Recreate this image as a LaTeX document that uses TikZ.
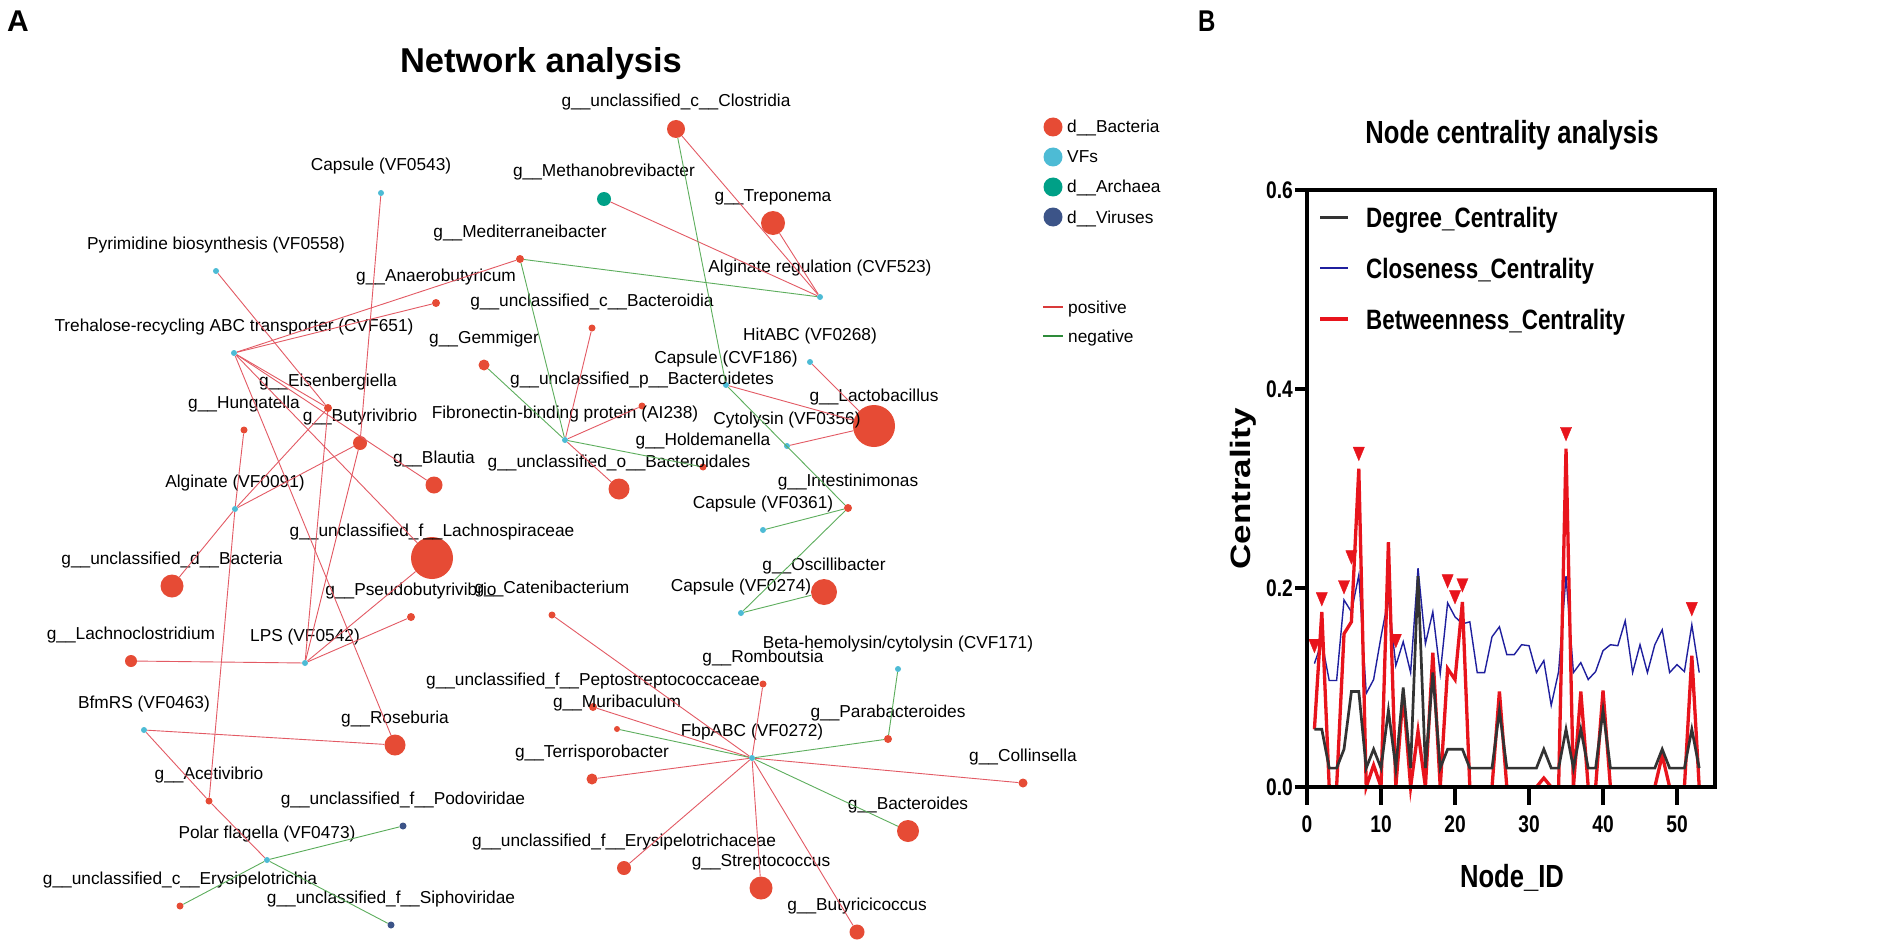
\documentclass[tikz,border=0pt]{standalone}
\usepackage{fontspec}
\usepackage{graphicx}
\setmainfont{Liberation Sans}
\newfontfamily\prismfont{Liberation Sans}[FakeStretch=0.8]
\usetikzlibrary{plotmarks}
\definecolor{bacred}{HTML}{E64B35}
\definecolor{vfcyan}{HTML}{4DBBD5}
\definecolor{archteal}{HTML}{00A087}
\definecolor{virblue}{HTML}{3C5488}
\definecolor{posedge}{HTML}{E35A64}
\definecolor{negedge}{HTML}{5DAE5D}
\definecolor{poskey}{HTML}{D93A3A}
\definecolor{negkey}{HTML}{2E8B3A}
\definecolor{degcol}{HTML}{333333}
\definecolor{clocol}{HTML}{1F1F9E}
\definecolor{betcol}{HTML}{E8141C}
\tikzset{
  bac/.style={circle,fill=bacred,inner sep=0pt},
  vf/.style={circle,fill=vfcyan,inner sep=0pt,minimum size=6pt},
  arch/.style={circle,fill=archteal,inner sep=0pt},
  vir/.style={circle,fill=virblue,inner sep=0pt,minimum size=7pt},
  lbl/.style={anchor=base,inner sep=0pt,font=\fontsize{17.3}{20}\selectfont},
  keytxt/.style={anchor=base west,inner sep=0pt,font=\fontsize{17.3}{20}\selectfont},
  poslink/.style={draw=posedge,line width=0.9pt},
  neglink/.style={draw=negedge,line width=0.9pt},
  axisline/.style={line width=4pt,line cap=rect},
  ticklbl/.style={inner sep=0pt,font=\prismfont\bfseries\fontsize{24}{28}\selectfont},
  prismtxt/.style={inner sep=0pt,font=\prismfont\bfseries\fontsize{28}{32}\selectfont}
}
\begin{document}
\begin{tikzpicture}[x=1pt,y=-1pt]
\path[fill=white,use as bounding box] (0,0) rectangle (1902,952);

\node[anchor=base west,inner sep=0pt,font=\bfseries\fontsize{30}{34}\selectfont] (lblA) at (7,32) {A};
\node[anchor=base,inner sep=0pt,font=\bfseries\fontsize{34.5}{38}\selectfont] (nettitle) at (541,73) {Network analysis};

\node[bac,minimum size=18pt] (clos) at (676,129) {};
\node[bac,minimum size=24pt] (trep) at (773,223) {};
\node[arch,minimum size=14pt] (meth) at (604,199) {};
\node[bac,minimum size=8pt] (medi) at (520,259) {};
\node[bac,minimum size=8pt] (anae) at (436,303) {};
\node[bac,minimum size=7pt] (bdia) at (592,328) {};
\node[bac,minimum size=11pt] (gemm) at (484,365) {};
\node[bac,minimum size=7pt] (bdet) at (642,406) {};
\node[bac,minimum size=42pt] (lact) at (874,426) {};
\node[bac,minimum size=7pt] (hold) at (703,467) {};
\node[bac,minimum size=21pt] (bdal) at (619,489) {};
\node[bac,minimum size=17pt] (blau) at (434,485) {};
\node[bac,minimum size=8pt] (eisen) at (328,408) {};
\node[bac,minimum size=7pt] (hung) at (244,430) {};
\node[bac,minimum size=14pt] (buty) at (360,443) {};
\node[bac,minimum size=42pt] (lachs) at (432,558) {};
\node[bac,minimum size=23pt] (ubac) at (172,586) {};
\node[bac,minimum size=8pt] (pseu) at (411,617) {};
\node[bac,minimum size=7pt] (cate) at (552,615) {};
\node[bac,minimum size=8pt] (intes) at (848,508) {};
\node[bac,minimum size=26pt] (osci) at (824,592) {};
\node[bac,minimum size=12pt] (lcl) at (131,661) {};
\node[bac,minimum size=21pt] (rose) at (395,745) {};
\node[bac,minimum size=7pt] (acet) at (209,801) {};
\node[bac,minimum size=7pt] (erysia) at (180,906) {};
\node[bac,minimum size=7pt] (romb) at (763,684) {};
\node[bac,minimum size=8pt] (pept) at (593,707) {};
\node[bac,minimum size=6pt] (muri) at (617,729) {};
\node[bac,minimum size=11pt] (terr) at (592,779) {};
\node[bac,minimum size=8pt] (para) at (888,739) {};
\node[bac,minimum size=9pt] (coll) at (1023,783) {};
\node[bac,minimum size=22pt] (bides) at (908,831) {};
\node[bac,minimum size=14pt] (eryc) at (624,868) {};
\node[bac,minimum size=23pt] (strep) at (761,888) {};
\node[bac,minimum size=15pt] (butc) at (857,932) {};
\node[vir] (podo) at (403,826) {};
\node[vir] (sipho) at (391,925) {};

\node[vf] (capA) at (381,193) {};
\node[vf] (pyr) at (216,271) {};
\node[vf] (algreg) at (820,297) {};
\node[vf] (treh) at (234,353) {};
\node[vf] (hit) at (810,362) {};
\node[vf] (cvfb) at (726,385) {};
\node[vf] (fib) at (565,440) {};
\node[vf] (cyto) at (787,446) {};
\node[vf] (algi) at (235,509) {};
\node[vf] (capC) at (763,530) {};
\node[vf] (capD) at (741,613) {};
\node[vf] (lps) at (305,663) {};
\node[vf] (bfm) at (144,730) {};
\node[vf] (polar) at (267,860) {};
\node[vf] (beta) at (898,669) {};
\node[vf] (fbp) at (752,758) {};

\node[lbl] (clos-l) at ([yshift=22pt]clos.center) {g\_\_unclassified\_c\_\_Clostridia};
\node[lbl] (trep-l) at ([yshift=22pt]trep.center) {g\_\_Treponema};
\node[lbl] (meth-l) at ([yshift=22pt]meth.center) {g\_\_Methanobrevibacter};
\node[lbl] (medi-l) at ([yshift=22pt]medi.center) {g\_\_Mediterraneibacter};
\node[lbl] (anae-l) at ([yshift=22pt]anae.center) {g\_\_Anaerobutyricum};
\node[lbl] (bdia-l) at ([yshift=22pt]bdia.center) {g\_\_unclassified\_c\_\_Bacteroidia};
\node[lbl] (gemm-l) at ([yshift=22pt]gemm.center) {g\_\_Gemmiger};
\node[lbl] (bdet-l) at ([yshift=22pt]bdet.center) {g\_\_unclassified\_p\_\_Bacteroidetes};
\node[lbl] (lact-l) at ([yshift=25pt]lact.center) {g\_\_Lactobacillus};
\node[lbl] (hold-l) at ([yshift=22pt]hold.center) {g\_\_Holdemanella};
\node[lbl] (bdal-l) at ([yshift=22pt]bdal.center) {g\_\_unclassified\_o\_\_Bacteroidales};
\node[lbl] (blau-l) at ([yshift=22pt]blau.center) {g\_\_Blautia};
\node[lbl] (eisen-l) at ([yshift=22pt]eisen.center) {g\_\_Eisenbergiella};
\node[lbl] (hung-l) at ([yshift=22pt]hung.center) {g\_\_Hungatella};
\node[lbl] (buty-l) at ([yshift=22pt]buty.center) {g\_\_Butyrivibrio};
\node[lbl] (lachs-l) at ([yshift=22pt]lachs.center) {g\_\_unclassified\_f\_\_Lachnospiraceae};
\node[lbl] (ubac-l) at ([yshift=22pt]ubac.center) {g\_\_unclassified\_d\_\_Bacteria};
\node[lbl] (pseu-l) at ([yshift=22pt]pseu.center) {g\_\_Pseudobutyrivibrio};
\node[lbl] (cate-l) at ([yshift=22pt]cate.center) {g\_\_Catenibacterium};
\node[lbl] (intes-l) at ([yshift=22pt]intes.center) {g\_\_Intestinimonas};
\node[lbl] (osci-l) at ([yshift=22pt]osci.center) {g\_\_Oscillibacter};
\node[lbl] (lcl-l) at ([yshift=22pt]lcl.center) {g\_\_Lachnoclostridium};
\node[lbl] (rose-l) at ([yshift=22pt]rose.center) {g\_\_Roseburia};
\node[lbl] (acet-l) at ([yshift=22pt]acet.center) {g\_\_Acetivibrio};
\node[lbl] (erysia-l) at ([yshift=22pt]erysia.center) {g\_\_unclassified\_c\_\_Erysipelotrichia};
\node[lbl] (romb-l) at ([yshift=22pt]romb.center) {g\_\_Romboutsia};
\node[lbl] (pept-l) at ([yshift=22pt]pept.center) {g\_\_unclassified\_f\_\_Peptostreptococcaceae};
\node[lbl] (muri-l) at ([yshift=22pt]muri.center) {g\_\_Muribaculum};
\node[lbl] (terr-l) at ([yshift=22pt]terr.center) {g\_\_Terrisporobacter};
\node[lbl] (para-l) at ([yshift=22pt]para.center) {g\_\_Parabacteroides};
\node[lbl] (coll-l) at ([yshift=22pt]coll.center) {g\_\_Collinsella};
\node[lbl] (bides-l) at ([yshift=22pt]bides.center) {g\_\_Bacteroides};
\node[lbl] (eryc-l) at ([yshift=22pt]eryc.center) {g\_\_unclassified\_f\_\_Erysipelotrichaceae};
\node[lbl] (strep-l) at ([yshift=22pt]strep.center) {g\_\_Streptococcus};
\node[lbl] (butc-l) at ([yshift=22pt]butc.center) {g\_\_Butyricicoccus};
\node[lbl] (podo-l) at ([yshift=22pt]podo.center) {g\_\_unclassified\_f\_\_Podoviridae};
\node[lbl] (sipho-l) at ([yshift=22pt]sipho.center) {g\_\_unclassified\_f\_\_Siphoviridae};
\node[lbl] (capA-l) at ([yshift=22pt]capA.center) {Capsule (VF0543)};
\node[lbl] (pyr-l) at ([yshift=22pt]pyr.center) {Pyrimidine biosynthesis (VF0558)};
\node[lbl] (algreg-l) at ([yshift=25pt]algreg.center) {Alginate regulation (CVF523)};
\node[lbl] (treh-l) at ([yshift=22pt]treh.center) {Trehalose-recycling ABC transporter (CVF651)};
\node[lbl] (hit-l) at ([yshift=22pt]hit.center) {HitABC (VF0268)};
\node[lbl] (cvfb-l) at ([yshift=22pt]cvfb.center) {Capsule (CVF186)};
\node[lbl] (fib-l) at ([yshift=22pt]fib.center) {Fibronectin-binding protein (AI238)};
\node[lbl] (cyto-l) at ([yshift=22pt]cyto.center) {Cytolysin (VF0356)};
\node[lbl] (algi-l) at ([yshift=22pt]algi.center) {Alginate (VF0091)};
\node[lbl] (capC-l) at ([yshift=22pt]capC.center) {Capsule (VF0361)};
\node[lbl] (capD-l) at ([yshift=22pt]capD.center) {Capsule (VF0274)};
\node[lbl] (lps-l) at ([yshift=22pt]lps.center) {LPS (VF0542)};
\node[lbl] (bfm-l) at ([yshift=22pt]bfm.center) {BfmRS (VF0463)};
\node[lbl] (polar-l) at ([yshift=22pt]polar.center) {Polar flagella (VF0473)};
\node[lbl] (beta-l) at ([yshift=21pt]beta.center) {Beta-hemolysin/cytolysin (CVF171)};
\node[lbl] (fbp-l) at ([yshift=22pt]fbp.center) {FbpABC (VF0272)};

\draw[poslink] (clos) -- (algreg);
\draw[poslink] (trep) -- (algreg);
\draw[poslink] (meth) -- (algreg);
\draw[poslink] (treh) -- (medi);
\draw[poslink] (treh) -- (anae);
\draw[poslink] (treh) -- (eisen);
\draw[poslink] (treh) -- (blau);
\draw[poslink] (treh) -- (lachs);
\draw[poslink] (treh) -- (rose);
\draw[poslink] (pyr) -- (eisen);
\draw[poslink] (capA) -- (buty);
\draw[poslink] (hung) -- (algi);
\draw[poslink] (algi) -- (buty);
\draw[poslink] (algi) -- (eisen);
\draw[poslink] (algi) -- (ubac);
\draw[poslink] (algi) -- (acet);
\draw[poslink] (eisen) -- (lps);
\draw[poslink] (buty) -- (lps);
\draw[poslink] (pseu) -- (lps);
\draw[poslink] (lachs) -- (lps);
\draw[poslink] (lcl) -- (lps);
\draw[poslink] (bfm) -- (rose);
\draw[poslink] (bfm) -- (acet);
\draw[poslink] (acet) -- (polar);
\draw[poslink] (bdia) -- (fib);
\draw[poslink] (bdet) -- (fib);
\draw[poslink] (bdal) -- (fib);
\draw[poslink] (hit) -- (lact);
\draw[poslink] (cvfb) -- (lact);
\draw[poslink] (cyto) -- (lact);
\draw[poslink] (cate) -- (fbp);
\draw[poslink] (romb) -- (fbp);
\draw[poslink] (pept) -- (fbp);
\draw[poslink] (terr) -- (fbp);
\draw[poslink] (coll) -- (fbp);
\draw[poslink] (eryc) -- (fbp);
\draw[poslink] (strep) -- (fbp);
\draw[poslink] (butc) -- (fbp);
\draw[neglink] (clos) -- (cvfb);
\draw[neglink] (cvfb) -- (intes);
\draw[neglink] (medi) -- (algreg);
\draw[neglink] (medi) -- (fib);
\draw[neglink] (gemm) -- (fib);
\draw[neglink] (fib) -- (hold);
\draw[neglink] (capC) -- (intes);
\draw[neglink] (intes) -- (capD);
\draw[neglink] (osci) -- (capD);
\draw[neglink] (polar) -- (podo);
\draw[neglink] (polar) -- (sipho);
\draw[neglink] (polar) -- (erysia);
\draw[neglink] (muri) -- (fbp);
\draw[neglink] (para) -- (fbp);
\draw[neglink] (bides) -- (fbp);
\draw[neglink] (para) -- (beta);

\node[circle,fill=bacred,minimum size=19pt,inner sep=0pt] (keybac) at (1053,127) {};
\node[circle,fill=vfcyan,minimum size=19pt,inner sep=0pt] (keyvf) at (1053,157) {};
\node[circle,fill=archteal,minimum size=19pt,inner sep=0pt] (keyarc) at (1053,187) {};
\node[circle,fill=virblue,minimum size=19pt,inner sep=0pt] (keyvir) at (1053,217) {};
\node[keytxt] (keybac-t) at (1067,133) {d\_\_Bacteria};
\node[keytxt] (keyvf-t) at (1067,163) {VFs};
\node[keytxt] (keyarc-t) at (1067,193) {d\_\_Archaea};
\node[keytxt] (keyvir-t) at (1067,223) {d\_\_Viruses};
\coordinate (keypos) at (1043,307);
\coordinate (keyneg) at (1043,336);
\draw[poskey,line width=1.3pt] (keypos) -- ++(20,0);
\draw[negkey,line width=1.3pt] (keyneg) -- ++(20,0);
\node[keytxt] (keypos-t) at (1068,313) {positive};
\node[keytxt] (keyneg-t) at (1068,342) {negative};

\node[anchor=base west,inner sep=0pt,font=\prismfont\bfseries\fontsize{30}{34}\selectfont] (lblB) at (1198,32) {B};
\node[anchor=base,inner sep=0pt,font=\prismfont\bfseries\fontsize{32}{36}\selectfont] (chtitle) at (1512,144) {Node centrality analysis};
\node[anchor=base,inner sep=0pt,font=\prismfont\bfseries\fontsize{32}{36}\selectfont] (xtitle) at (1512,887) {Node\_ID};
\node[rotate=90,inner sep=0pt,font=\bfseries\fontsize{35}{40}\selectfont] (ytitle) at (1243,489) {\scalebox{1}[0.8]{Centrality}};

\begin{scope}[shift={(1307,787)},x=7.4pt,y=995pt]
\draw[clocol,line width=1.4pt] plot coordinates {(1,0.124) (2,0.146) (3,0.107) (4,0.107) (5,0.188) (6,0.176) (7,0.213) (8,0.094) (9,0.108) (10,0.151) (11,0.19) (12,0.122) (13,0.146) (14,0.115) (15,0.22) (16,0.144) (17,0.176) (18,0.114) (19,0.185) (20,0.171) (21,0.164) (22,0.166) (23,0.115) (24,0.115) (25,0.151) (26,0.161) (27,0.133) (28,0.133) (29,0.143) (30,0.142) (31,0.115) (32,0.127) (33,0.082) (34,0.116) (35,0.212) (36,0.115) (37,0.125) (38,0.108) (39,0.116) (40,0.137) (41,0.143) (42,0.142) (43,0.167) (44,0.115) (45,0.143) (46,0.115) (47,0.143) (48,0.158) (49,0.115) (50,0.123) (51,0.116) (52,0.163) (53,0.115)};
\draw[betcol,line width=3.3pt] plot coordinates {(1,0.058) (2,0.176) (3,0) (4,0) (5,0.154) (6,0.166) (7,0.32) (8,0) (9,0.022) (10,0) (11,0.246) (12,0) (13,0.094) (14,0) (15,0.056) (16,0) (17,0.135) (18,0) (19,0.119) (20,0.108) (21,0.186) (22,0) (23,0) (24,0) (25,0) (26,0.096) (27,0) (28,0) (29,0) (30,0) (31,0) (32,0.009) (33,0) (34,0) (35,0.34) (36,0) (37,0.096) (38,0) (39,0) (40,0.097) (41,0) (42,0) (43,0) (44,0) (45,0) (46,0) (47,0) (48,0.032) (49,0) (50,0) (51,0) (52,0.132) (53,0)};
\draw[degcol,line width=2.7pt] plot coordinates {(1,0.058) (2,0.058) (3,0.019) (4,0.019) (5,0.038) (6,0.096) (7,0.096) (8,0.019) (9,0.038) (10,0.019) (11,0.077) (12,0.019) (13,0.1) (14,0.019) (15,0.212) (16,0.019) (17,0.115) (18,0.019) (19,0.038) (20,0.038) (21,0.038) (22,0.019) (23,0.019) (24,0.019) (25,0.019) (26,0.077) (27,0.019) (28,0.019) (29,0.019) (30,0.019) (31,0.019) (32,0.038) (33,0.019) (34,0.019) (35,0.058) (36,0.019) (37,0.058) (38,0.019) (39,0.019) (40,0.077) (41,0.019) (42,0.019) (43,0.019) (44,0.019) (45,0.019) (46,0.019) (47,0.019) (48,0.038) (49,0.019) (50,0.019) (51,0.019) (52,0.058) (53,0.019)};
\draw plot[only marks,mark=triangle*,mark size=9pt,mark options={rotate=180,xscale=0.72,fill=betcol,draw=betcol}] coordinates {(1,0.144) (2,0.191) (5,0.203) (6,0.233) (7,0.337) (12,0.149) (19,0.209) (20,0.193) (21,0.205) (35,0.357) (52,0.181)};
\draw[axisline] (0,0) rectangle (55.1,0.6);
\foreach \v/\t in {0/0.0,0.2/0.2,0.4/0.4,0.6/0.6} {
  \draw[axisline] (0,\v) -- ++(-10pt,0pt);
  \node[ticklbl,anchor=east] at ([xshift=-14pt]0,\v) {\t};
}
\foreach \x in {0,10,20,30,40,50} {
  \draw[axisline] (\x,0) -- ++(0pt,-16pt);
  \node[ticklbl,anchor=north] at ([yshift=-29pt]\x,0) {\x};
}
\end{scope}

\draw[degcol,line width=3pt] (1320,217) -- (1348,217);
\draw[clocol,line width=1.4pt] (1320,268) -- (1348,268);
\draw[betcol,line width=3.3pt] (1320,319) -- (1348,319);
\node[prismtxt,anchor=base west] (legdeg) at (1366,227) {Degree\_Centrality};
\node[prismtxt,anchor=base west] (legclo) at (1366,278) {Closeness\_Centrality};
\node[prismtxt,anchor=base west] (legbet) at (1366,329) {Betweenness\_Centrality};
\end{tikzpicture}
\end{document}
